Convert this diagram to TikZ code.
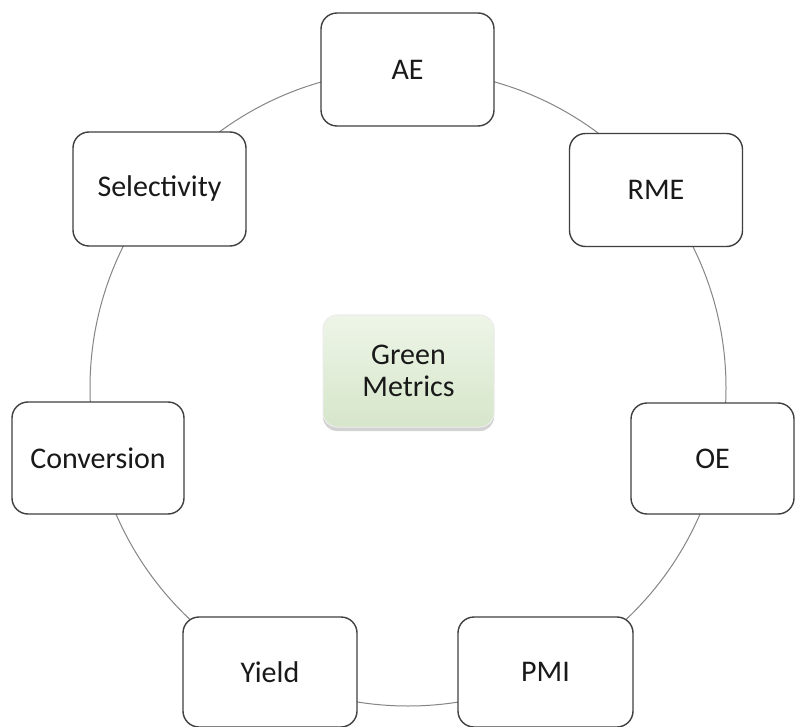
\documentclass[tikz,border=0pt]{standalone}
\usepackage{fontspec}
\setmainfont{Carlito}
\usetikzlibrary{shadows}
\definecolor{ringgray}{HTML}{858585}
\definecolor{boxline}{HTML}{3F3F3F}
\definecolor{greentop}{HTML}{EEF5E8}
\definecolor{greenbot}{HTML}{D6E6CA}
\begin{document}
\begin{tikzpicture}[x=1pt,y=-1pt,
  metric/.style={draw=boxline, line width=1.4pt, fill=white, rounded corners=16pt,
    minimum width=173pt, minimum height=113pt, inner sep=0pt,
    font=\fontsize{30}{33}\selectfont, text=black!90},
  centre/.style={draw=white!85!gray, line width=1pt, rounded corners=14pt,
    top color=greentop, bottom color=greenbot,
    drop shadow={shadow xshift=0pt, shadow yshift=-4pt, opacity=0.35},
    minimum width=171pt, minimum height=112pt, inner sep=0pt, align=center,
    font=\fontsize{30}{32}\selectfont, text=black!90},
  ring/.style={draw=ringgray, line width=1pt}]
\useasboundingbox (0,0) rectangle (795,727);
\fill[white] (0,0) rectangle (795,727);
\coordinate (c) at (408,388);
\draw[ring] (c) circle[radius=318pt];
\node[metric] (ae) at (407.5,69.5) {AE};
\node[metric] (rme) at (656,190) {RME};
\node[metric, minimum width=163pt, minimum height=111pt] (oe) at (712.5,458.5) {OE};
\node[metric, minimum width=175pt, minimum height=110pt] (pmi) at (545.5,672) {PMI};
\node[metric, minimum width=174pt, minimum height=110pt] (yield) at (270,672) {Yield};
\node[metric, minimum width=172pt, minimum height=112pt] (conv) at (98,458) {Conversion};
\node[metric, minimum height=114pt] (sel) at (159.5,189) {Selectivity};
\node[centre] (gm) at (408.5,371) {Green\\Metrics};
\end{tikzpicture}
\end{document}
